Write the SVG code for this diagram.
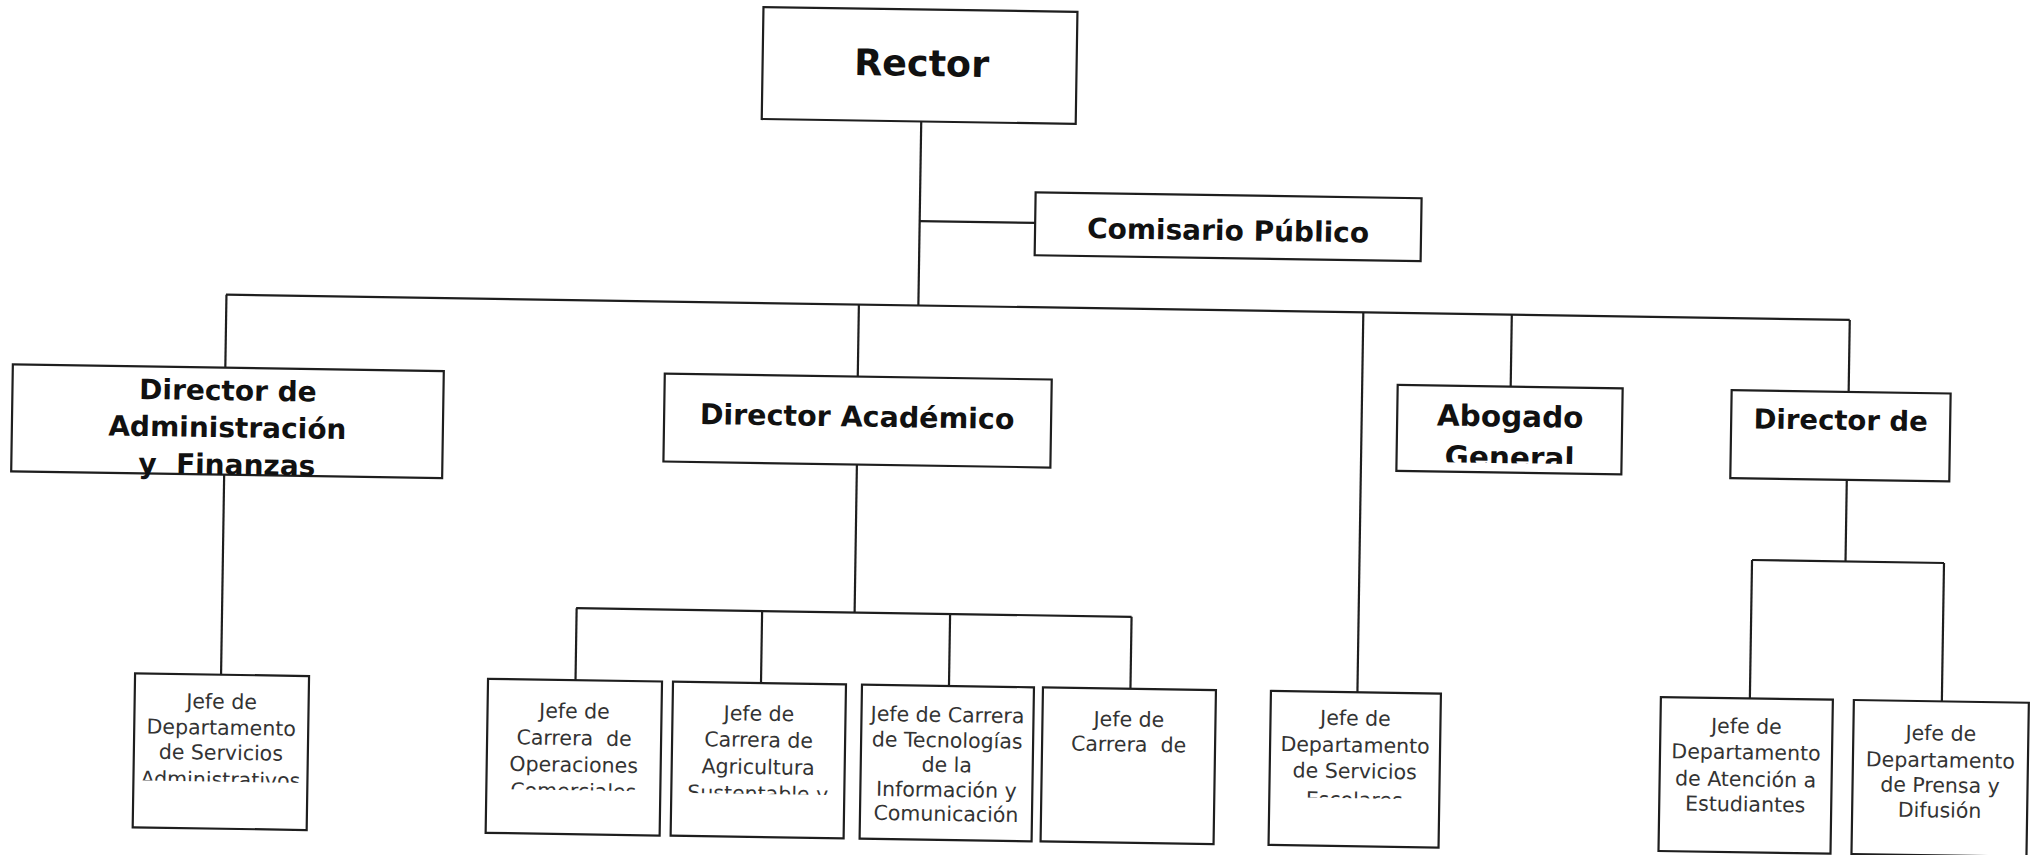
<svg xmlns="http://www.w3.org/2000/svg" width="2035" height="855" viewBox="0 0 2035 855">
<style>
.box{fill:#fff;stroke:#1e1e1e;stroke-width:2.2}
#connectors line{stroke:#1e1e1e;stroke-width:2.2}
.h{font-family:"DejaVu Sans","Liberation Sans",sans-serif;font-weight:bold;fill:#111;text-anchor:middle}
.s{font-family:"DejaVu Sans","Liberation Sans",sans-serif;font-size:20.5px;fill:#333;text-anchor:middle}
</style>
<defs>
<clipPath id="cpAdmin" clipPathUnits="userSpaceOnUse"><rect x="139" y="687" width="174" height="107"/></clipPath>
<clipPath id="cpOp" clipPathUnits="userSpaceOnUse"><rect x="492" y="687" width="174" height="110"/></clipPath>
<clipPath id="cpAgri" clipPathUnits="userSpaceOnUse"><rect x="677" y="687" width="173" height="111"/></clipPath>
<clipPath id="cpEsc" clipPathUnits="userSpaceOnUse"><rect x="1275" y="687" width="170" height="106"/></clipPath>
<clipPath id="cpAbo" clipPathUnits="userSpaceOnUse"><rect x="1397" y="379" width="225" height="76.5"/></clipPath>
</defs>
<rect x="0" y="0" width="2035" height="855" fill="#fff"/>
<g transform="rotate(0.888 1017 427)">
<g id="connectors">
<line x1="916.5" y1="123" x2="916.5" y2="307"/>
<line x1="916.5" y1="222.7" x2="1032" y2="222.7"/>
<line x1="224" y1="307" x2="1848" y2="307"/>
<line x1="224.5" y1="307" x2="224.5" y2="380"/>
<line x1="857" y1="307" x2="857" y2="379"/>
<line x1="1361.5" y1="307" x2="1361.5" y2="687"/>
<line x1="1510" y1="307" x2="1510" y2="379"/>
<line x1="1848" y1="307" x2="1848" y2="379"/>
<line x1="225" y1="487" x2="225" y2="687"/>
<line x1="857.5" y1="467" x2="857.5" y2="615"/>
<line x1="579" y1="615" x2="1134.5" y2="615"/>
<line x1="579.5" y1="615" x2="579.5" y2="687"/>
<line x1="765" y1="615" x2="765" y2="687"/>
<line x1="953" y1="615" x2="953" y2="687"/>
<line x1="1134.5" y1="615" x2="1134.5" y2="687"/>
<line x1="1847.5" y1="467" x2="1847.5" y2="548.6"/>
<line x1="1754" y1="548.6" x2="1946" y2="548.6"/>
<line x1="1754" y1="548.6" x2="1754" y2="687"/>
<line x1="1946" y1="548.6" x2="1946" y2="687"/>
</g>
<g id="rector">
<rect class="box" x="757" y="11" width="314" height="112"/>
<text class="h" x="916" y="77.5" font-size="36.5">Rector</text>
</g>
<g id="comisario">
<rect class="box" x="1032" y="192" width="386" height="63"/>
<text class="h" x="1225" y="237" font-size="28">Comisario Público</text>
</g>
<g id="dir-admin">
<rect class="box" x="12" y="380" width="431" height="107"/>
<text class="h" x="227.5" y="412.5" font-size="28">Director de</text>
<text class="h" x="227.5" y="449.5" font-size="28">Administración</text>
<text class="h" x="227.5" y="486.5" font-size="28" xml:space="preserve">y  Finanzas</text>
</g>
<g id="dir-academico">
<rect class="box" x="664" y="379" width="387" height="88"/>
<text class="h" x="857" y="429" font-size="28.5">Director Académico</text>
</g>
<g id="abogado">
<rect class="box" x="1397" y="379" width="225" height="86"/>
<text class="h" x="1510" y="419" font-size="29.5">Abogado</text>
<text class="h" x="1510" y="460" font-size="29.5" clip-path="url(#cpAbo)">General</text>
</g>
<g id="director-de">
<rect class="box" x="1731" y="379" width="219" height="88"/>
<text class="h" x="1840.5" y="417" font-size="27.5">Director de</text>
</g>
<g id="jefe-serv-admin">
<rect class="box" x="139" y="687" width="174" height="154"/>
<text class="s" x="226" y="721">Jefe de</text>
<text class="s" x="226" y="747">Departamento</text>
<text class="s" x="226" y="772">de Servicios</text>
<text class="s" x="226" y="799" clip-path="url(#cpAdmin)">Administrativos</text>
</g>
<g id="jefe-op-com">
<rect class="box" x="492" y="687" width="174" height="154"/>
<text class="s" x="579" y="725">Jefe de</text>
<text class="s" x="579" y="752" xml:space="preserve">Carrera  de</text>
<text class="s" x="579" y="778.7">Operaciones</text>
<text class="s" x="579" y="805" clip-path="url(#cpOp)">Comerciales</text>
</g>
<g id="jefe-agri">
<rect class="box" x="677" y="687" width="173" height="154"/>
<text class="s" x="763.5" y="724.7">Jefe de</text>
<text class="s" x="763.5" y="751">Carrera de</text>
<text class="s" x="763.5" y="778">Agricultura</text>
<text class="s" x="763.5" y="804.7" clip-path="url(#cpAgri)">Sustentable y</text>
</g>
<g id="jefe-tic">
<rect class="box" x="866" y="687" width="172" height="154"/>
<text class="s" x="952" y="723">Jefe de Carrera</text>
<text class="s" x="952" y="748.5">de Tecnologías</text>
<text class="s" x="952" y="773">de la</text>
<text class="s" x="952" y="798">Información y</text>
<text class="s" x="952" y="822">Comunicación</text>
</g>
<g id="jefe-carrera">
<rect class="box" x="1047" y="687" width="173" height="154"/>
<text class="s" x="1133.5" y="724.7">Jefe de</text>
<text class="s" x="1133.5" y="749.7" xml:space="preserve">Carrera  de</text>
</g>
<g id="jefe-serv-esc">
<rect class="box" x="1275" y="687" width="170" height="154"/>
<text class="s" x="1360" y="720">Jefe de</text>
<text class="s" x="1360" y="747">Departamento</text>
<text class="s" x="1360" y="773">de Servicios</text>
<text class="s" x="1360" y="801.7" clip-path="url(#cpEsc)">Escolares</text>
</g>
<g id="jefe-atencion">
<rect class="box" x="1665" y="687" width="172" height="154"/>
<text class="s" x="1751" y="722">Jefe de</text>
<text class="s" x="1751" y="748">Departamento</text>
<text class="s" x="1751" y="775">de Atención a</text>
<text class="s" x="1751" y="800">Estudiantes</text>
</g>
<g id="jefe-prensa">
<rect class="box" x="1858" y="687" width="175" height="154"/>
<text class="s" x="1945.5" y="726">Jefe de</text>
<text class="s" x="1945.5" y="753">Departamento</text>
<text class="s" x="1945.5" y="778">de Prensa y</text>
<text class="s" x="1945.5" y="803">Difusión</text>
</g>
</g>
</svg>
